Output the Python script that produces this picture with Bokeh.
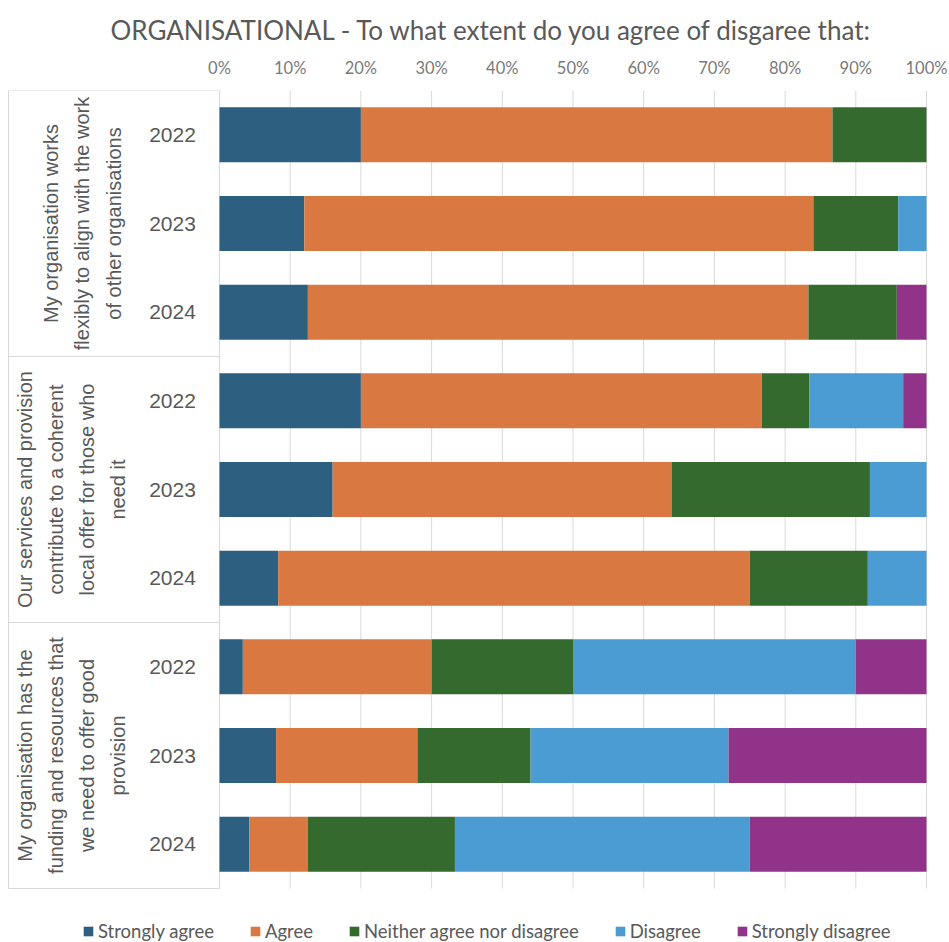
import math
from bokeh.plotting import figure
from bokeh.models import (ColumnDataSource, Range1d, FixedTicker, NumeralTickFormatter,
                          Title, Legend, LegendItem)
from bokeh.core.properties import value
from bokeh.embed import file_html
from bokeh.resources import INLINE

# ---- data (percent of respondents) ----
statements = [
    "My organisation works\nflexibly to align with the work\nof other organisations",
    "Our services and provision\ncontribute to a coherent\nlocal offer for those who\nneed it",
    "My organisation has the\nfunding and resources that\nwe need to offer good\nprovision",
]
years = ["2022", "2023", "2024"]
responses = ["Strongly agree", "Agree", "Neither agree nor disagree", "Disagree", "Strongly disagree"]
colors = ["#2d5f80", "#d97841", "#356a2e", "#4a9cd2", "#913489"]

strongly_agree    = [20.0, 12.0, 12.5, 20.0, 16.0,  8.3,  3.3,  8.0,  4.2]
agree             = [66.7, 72.0, 70.8, 56.7, 48.0, 66.7, 26.7, 20.0,  8.3]
neither           = [13.3, 12.0, 12.5,  6.7, 28.0, 16.7, 20.0, 16.0, 20.8]
disagree          = [ 0.0,  4.0,  0.0, 13.3,  8.0,  8.3, 40.0, 28.0, 41.7]
strongly_disagree = [ 0.0,  0.0,  4.2,  3.3,  0.0,  0.0, 10.0, 28.0, 25.0]

x_ticks = [0, 0.1, 0.2, 0.3, 0.4, 0.5, 0.6, 0.7, 0.8, 0.9, 1.0]

# ---- layout constants (pixels) ----
W, H = 949, 942
FRAME_L, FRAME_R = 6, 928
ZERO_PX, FULL_PX = 219, 926
FRAME_T = 90
ROWS_B = 888            # bottom of the last category band
PX_PER_UNIT = FULL_PX - ZERO_PX


def px_to_x(px):
    return (px - ZERO_PX) / PX_PER_UNIT


n_rows = len(statements) * len(years)
row_h = (ROWS_B - FRAME_T) / n_rows
y_bottom = n_rows + (H - ROWS_B) / row_h   # room for the legend under the bars

GRAY = "#595959"
LINE = "#d9d9d9"
UI_FONT = "Lato"
CAT_FONT = "Liberation Sans"

series = [strongly_agree, agree, neither, disagree, strongly_disagree]
total = [sum(v) for v in zip(*series)]
data = {"y": [i + 0.5 for i in range(n_rows)]}
for name, vals in zip(responses, series):
    data[name] = [v / t for v, t in zip(vals, total)]
source = ColumnDataSource(data)

p = figure(width=W, height=H, output_backend="svg", toolbar_location=None,
           x_range=Range1d(px_to_x(FRAME_L), px_to_x(FRAME_R)),
           y_range=Range1d(y_bottom, 0),
           x_axis_location="above", y_axis_location=None,
           min_border_left=FRAME_L, min_border_right=W - FRAME_R,
           min_border_top=FRAME_T, min_border_bottom=0)
p.outline_line_color = None
p.background_fill_color = "white"
p.border_fill_color = "white"

# percent axis on top
ax = p.xaxis[0]
ax.ticker = FixedTicker(ticks=x_ticks)
ax.formatter = NumeralTickFormatter(format="0%")
ax.axis_line_color = None
ax.major_tick_line_color = None
ax.minor_tick_line_color = None
ax.major_tick_out = 0
ax.major_label_standoff = 13
ax.major_label_text_font = UI_FONT
ax.major_label_text_font_size = "16.5px"
ax.major_label_text_color = "#7a7a7a"

p.xgrid.grid_line_color = None
p.ygrid.grid_line_color = None

# vertical gridlines over the category bands only
p.segment(x0=x_ticks, x1=x_ticks, y0=[0] * len(x_ticks), y1=[n_rows] * len(x_ticks),
          line_color=LINE, line_width=1)

# stacked bars
renderers = p.hbar_stack(responses, y="y", height=0.62, color=colors,
                         line_color=None, source=source)

# category box on the left
left_x = px_to_x(8)
bounds = [0, 3, 6, 9]
p.segment(x0=[left_x] * len(bounds), x1=[0] * len(bounds), y0=bounds, y1=bounds,
          line_color=LINE, line_width=1)
p.segment(x0=[left_x], x1=[left_x], y0=[0], y1=[n_rows], line_color=LINE, line_width=1)

# year labels
yr_src = ColumnDataSource(dict(
    x=[px_to_x(172)] * n_rows,
    y=[i + 0.5 for i in range(n_rows)],
    t=[years[i % 3] for i in range(n_rows)],
))
p.text(x="x", y="y", text="t", source=yr_src, text_align="center",
       text_baseline="middle", text_font=value(CAT_FONT), text_font_size="21px",
       text_color=GRAY)

# statement labels, rotated
st_src = ColumnDataSource(dict(
    x=[px_to_x(82), px_to_x(71), px_to_x(71)],
    y=[1.5, 4.5, 7.5],
    t=statements,
))
p.text(x="x", y="y", text="t", source=st_src, angle=math.pi / 2,
       text_align="center", text_baseline="middle", text_font=value(CAT_FONT),
       text_font_size="20px", text_line_height=1.42, text_color=GRAY)

# title
title = Title(text="ORGANISATIONAL - To what extent do you agree of disgaree that:",
              align="left", offset=110 - FRAME_L, text_font=UI_FONT,
              text_font_size="26px", text_font_style="normal", text_color=GRAY,
              standoff=18)
p.add_layout(title, "above")

# legend under the bars
legend = Legend(items=[LegendItem(label=lab, renderers=[r]) for lab, r in zip(responses, renderers)],
                orientation="horizontal", location=(82 - FRAME_L, 0),
                glyph_width=12, glyph_height=12, label_standoff=4, spacing=35,
                padding=0, margin=0, border_line_color=None, background_fill_alpha=0,
                label_text_font=UI_FONT, label_text_font_size="18.5px",
                label_text_color=GRAY)
p.add_layout(legend, "center")

open("out.html", "w").write(file_html(p, INLINE))
